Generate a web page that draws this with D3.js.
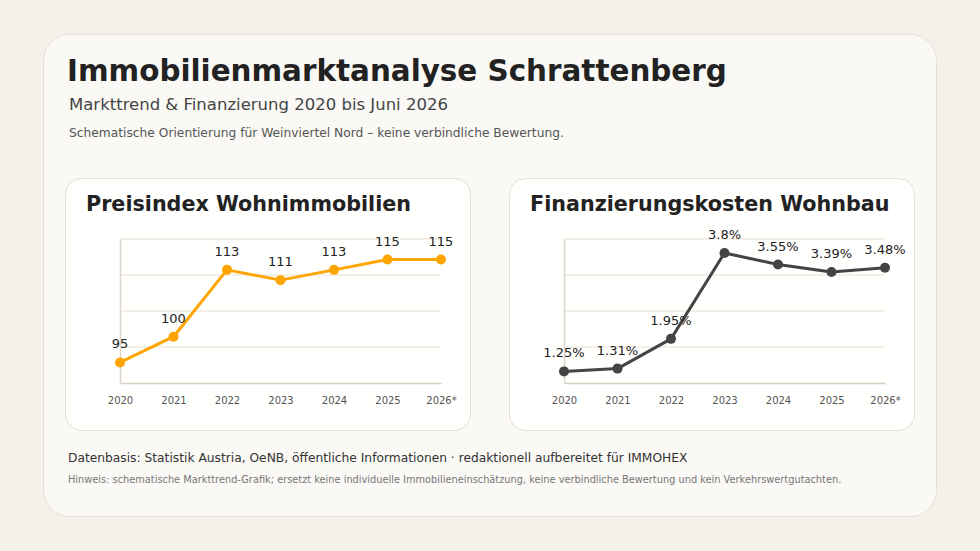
<!DOCTYPE html>
<html>
<head>
<meta charset="utf-8">
<script src="https://cdn.jsdelivr.net/npm/d3@7"></script>
<style>
  html, body { margin: 0; padding: 0; background: #f4f0ea; }
  svg { display: block; font-family: "DejaVu Sans", sans-serif; }
</style>
</head>
<body>
<svg id="chart" width="980" height="551"></svg>
<script>
// chart data
var years = ["2020", "2021", "2022", "2023", "2024", "2025", "2026*"];
var priceIndex = [95, 100, 113, 111, 113, 115, 115];
var financeRate = [1.25, 1.31, 1.95, 3.8, 3.55, 3.39, 3.48];
var priceDomain = [91, 119];
var rateDomain = [1.0, 4.1];

var svg = d3.select("#chart");

// outer card
svg.append("rect")
    .attr("x", 43.5).attr("y", 34.5)
    .attr("width", 893).attr("height", 482)
    .attr("rx", 26)
    .style("fill", "#faf9f5")
    .style("stroke", "#e8e0d3")
    .style("stroke-width", 1);

// faint logo placeholder
svg.append("rect")
    .attr("x", 752).attr("y", 48)
    .attr("width", 176).attr("height", 60)
    .attr("rx", 14)
    .style("fill", "#f9f8f3");

svg.append("text")
    .attr("x", 67).attr("y", 81)
    .text("Immobilienmarktanalyse Schrattenberg")
    .style("font-size", "29.4px").style("font-weight", "bold")
    .style("fill", "#222");

svg.append("text")
    .attr("x", 69).attr("y", 110)
    .text("Markttrend & Finanzierung 2020 bis Juni 2026")
    .style("font-size", "16.5px")
    .style("fill", "#444");

svg.append("text")
    .attr("x", 69).attr("y", 137)
    .text("Schematische Orientierung für Weinviertel Nord – keine verbindliche Bewertung.")
    .style("font-size", "12.25px")
    .style("fill", "#555");

svg.append("text")
    .attr("x", 68).attr("y", 462)
    .text("Datenbasis: Statistik Austria, OeNB, öffentliche Informationen · redaktionell aufbereitet für IMMOHEX")
    .style("font-size", "12.25px")
    .style("fill", "#333");

svg.append("text")
    .attr("x", 68).attr("y", 483)
    .text("Hinweis: schematische Markttrend-Grafik; ersetzt keine individuelle Immobilieneinschätzung, keine verbindliche Bewertung und kein Verkehrswertgutachten.")
    .style("font-size", "9.8px")
    .style("fill", "#777");

function drawPanel(px, title, values, domain, color, fmt) {
    var g = svg.append("g").attr("transform", "translate(" + px + ",0)");

    g.append("rect")
        .attr("x", 0.5).attr("y", 178.5)
        .attr("width", 405).attr("height", 252)
        .attr("rx", 16)
        .style("fill", "#fffffe")
        .style("stroke", "#e6decf")
        .style("stroke-width", 1);

    g.append("text")
        .attr("x", 21).attr("y", 211)
        .text(title)
        .style("font-size", "20.7px").style("font-weight", "bold")
        .style("fill", "#222");

    var x = d3.scalePoint().domain(years).range([55, 376]);
    var y = d3.scaleLinear().domain(domain).range([383, 239]);

    // gridlines: four equal bands
    var gridVals = d3.range(1, 5).map(function (k) {
        return domain[0] + k * (domain[1] - domain[0]) / 4;
    });
    g.selectAll(".grid")
        .data(gridVals)
        .enter().append("line")
        .attr("x1", 55).attr("x2", 376)
        .attr("y1", function (d) { return y(d); })
        .attr("y2", function (d) { return y(d); })
        .style("stroke", "#f0ebe1")
        .style("stroke-width", 1.5);

    // axes
    var xAxis = g.append("g")
        .attr("transform", "translate(0," + y(domain[0]) + ")")
        .call(d3.axisBottom(x).tickSize(0).tickPadding(14));
    xAxis.select(".domain").style("stroke", "#d9d0c3").style("stroke-width", 1.5);
    xAxis.selectAll("text")
        .style("font-size", "10px")
        .style("font-family", "DejaVu Sans, sans-serif")
        .style("fill", "#555");

    var yAxis = g.append("g")
        .attr("transform", "translate(55,0)")
        .call(d3.axisLeft(y).tickValues([]).tickSize(0));
    yAxis.select(".domain").style("stroke", "#ded5c8").style("stroke-width", 1.5);

    var line = d3.line()
        .x(function (d, i) { return x(years[i]); })
        .y(function (d) { return y(d); });

    g.append("path")
        .datum(values)
        .attr("d", line)
        .style("fill", "none")
        .style("stroke", color)
        .style("stroke-width", 3)
        .style("stroke-linejoin", "round");

    g.selectAll(".pt")
        .data(values)
        .enter().append("circle")
        .attr("cx", function (d, i) { return x(years[i]); })
        .attr("cy", function (d) { return y(d); })
        .attr("r", 5)
        .style("fill", color);

    g.selectAll(".lbl")
        .data(values)
        .enter().append("text")
        .attr("x", function (d, i) { return x(years[i]); })
        .attr("y", function (d) { return y(d) - 14; })
        .attr("text-anchor", "middle")
        .text(fmt)
        .style("font-size", "13px")
        .style("fill", "#222");
}

drawPanel(65, "Preisindex Wohnimmobilien", priceIndex, priceDomain, "#ffa500",
    function (d) { return d; });
drawPanel(509, "Finanzierungskosten Wohnbau", financeRate, rateDomain, "#444444",
    function (d) { return d + "%"; });
</script>
</body>
</html>
